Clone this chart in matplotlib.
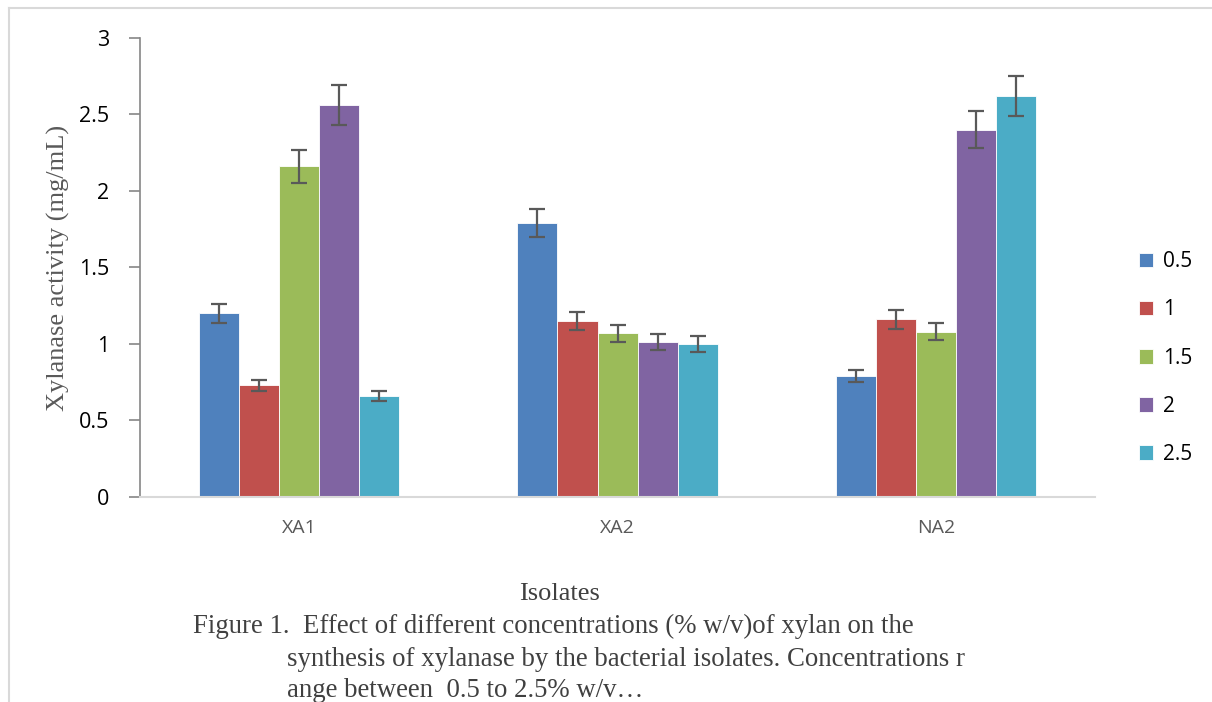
import numpy as np
import matplotlib
matplotlib.use("Agg")
import matplotlib.pyplot as plt
from matplotlib.lines import Line2D

# Datos
isolates = ["XA1", "XA2", "NA2"]
concentrations = ["0.5", "1", "1.5", "2", "2.5"]
act_05 = [1.20, 1.79, 0.79]
act_1 = [0.73, 1.15, 1.16]
act_15 = [2.16, 1.07, 1.08]
act_2 = [2.56, 1.01, 2.40]
act_25 = [0.66, 1.00, 2.62]
err_05 = [0.06, 0.09, 0.04]
err_1 = [0.037, 0.06, 0.06]
err_15 = [0.108, 0.056, 0.055]
err_2 = [0.13, 0.052, 0.12]
err_25 = [0.035, 0.052, 0.13]

series = [act_05, act_1, act_15, act_2, act_25]
errors = [err_05, err_1, err_15, err_2, err_25]
colores = ["#4F81BD", "#C0504D", "#9BBB59", "#8064A2", "#4BACC6"]

fig = plt.figure(figsize=(12.12, 7.02), dpi=100)
ax = fig.add_axes([0.1155, 0.292, 0.788, 0.654])

x = np.arange(len(isolates))
w = 0.1257
for i, (vals, errs) in enumerate(zip(series, errors)):
    pos = x + (i - 2) * w
    ax.bar(pos, vals, width=w, color=colores[i], edgecolor="white",
           linewidth=0.6, label=concentrations[i], zorder=2)
    ax.errorbar(pos, vals, yerr=errs, fmt="none", ecolor="#595959",
                elinewidth=1.6, capsize=6, capthick=1.6, zorder=3)

ax.set_xlim(-0.5, 2.5)
ax.set_ylim(0, 3)
ax.set_yticks([0, 0.5, 1, 1.5, 2, 2.5, 3])
ax.set_yticklabels(["0", "0.5", "1", "1.5", "2", "2.5", "3"])
ax.set_xticks(x)
ax.set_xticklabels(isolates)

for s in ["top", "right"]:
    ax.spines[s].set_visible(False)
ax.spines["left"].set_color("#868686")
ax.spines["left"].set_linewidth(1.2)
ax.spines["bottom"].set_color("#D9D9D9")
ax.spines["bottom"].set_linewidth(1.5)

ax.tick_params(axis="y", length=8, width=1.2, color="#868686", labelsize=15.5,
               labelcolor="black", pad=14)
ax.tick_params(axis="x", length=0, labelsize=14, labelcolor="#595959", pad=16)
for t in ax.get_yticklabels():
    t.set_family("Open Sans")
for t in ax.get_xticklabels():
    t.set_family("Open Sans")

ax.set_ylabel("Xylanase activity (mg/mL)", family="Liberation Serif",
              fontsize=19, color="#595959")
ax.yaxis.set_label_coords(-0.073, 0.5)

leg = fig.legend(loc="center left", bbox_to_anchor=(0.924, 0.49), frameon=False,
                 prop={"family": "Open Sans", "size": 15}, handlelength=0.7,
                 handleheight=0.7, handletextpad=0.45, labelspacing=1.3)

fig.text(0.462, 0.154, "Isolates", family="Liberation Serif", fontsize=19,
         color="#404040", ha="center", va="center")
fig.text(0.159, 0.107, "Figure 1.  Effect of different concentrations (% w/v)of xylan on the",
         family="Liberation Serif", fontsize=19.3, color="#404040", va="center")
fig.text(0.237, 0.061, "synthesis of xylanase by the bacterial isolates. Concentrations r",
         family="Liberation Serif", fontsize=19.3, color="#404040", va="center")
fig.text(0.237, 0.017, "ange between  0.5 to 2.5% w/v\u2026",
         family="Liberation Serif", fontsize=19.3, color="#404040", va="center")

# borde del area del grafico
fig.add_artist(Line2D([0.0075, 0.0075], [0.0, 0.989], color="#D9D9D9", lw=1.5))
fig.add_artist(Line2D([0.0075, 1.0], [0.989, 0.989], color="#D9D9D9", lw=1.5))

fig.savefig("out.png", dpi=100)
